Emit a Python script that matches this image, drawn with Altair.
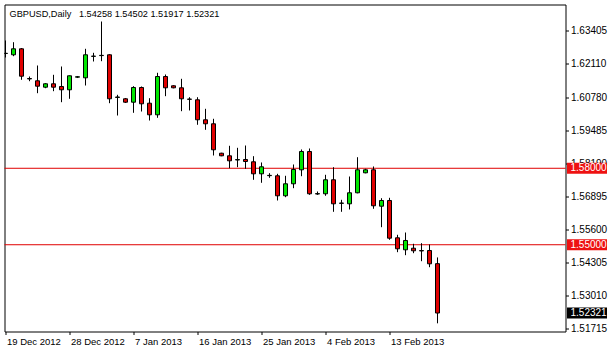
import altair as alt
import pandas as pd

symbol = "GBPUSD"
timeframe = "Daily"

opens = [1.62503, 1.62452, 1.62687, 1.61520, 1.61432, 1.61181, 1.61314, 1.61208, 1.61079, 1.61575,
         1.61549, 1.62390, 1.62420, 1.62452, 1.60780, 1.60726, 1.60592, 1.61169, 1.60553, 1.60098,
         1.61600, 1.61236, 1.61157, 1.60715, 1.60686, 1.59902, 1.59745, 1.58591, 1.58489, 1.58325,
         1.58344, 1.58254, 1.57783, 1.57710, 1.57705, 1.56920, 1.57391, 1.57940, 1.58658, 1.56990,
         1.56999, 1.57548, 1.56625, 1.56606, 1.57038, 1.57822, 1.57940, 1.56512, 1.56736, 1.55272,
         1.54802, 1.54864, 1.54770, 1.54774, 1.54258]
highs = [1.63013, 1.62946, 1.62718, 1.61600, 1.62032, 1.61338, 1.61667, 1.61993, 1.61640, 1.61620,
         1.62687, 1.62530, 1.63758, 1.62475, 1.60882, 1.60757, 1.61220, 1.61208, 1.60749, 1.61746,
         1.61679, 1.61255, 1.61510, 1.60788, 1.60788, 1.60333, 1.59941, 1.58607, 1.58882, 1.58803,
         1.58893, 1.58474, 1.58227, 1.57807, 1.57783, 1.57705, 1.58148, 1.58737, 1.58776, 1.57089,
         1.57744, 1.58042, 1.56763, 1.57677, 1.58434, 1.57979, 1.58070, 1.56826, 1.56842, 1.55390,
         1.55480, 1.55037, 1.55061, 1.55010, 1.54502]
lows = [1.62346, 1.62397, 1.61471, 1.61416, 1.60945, 1.61141, 1.61024, 1.60592, 1.60726, 1.61540,
        1.61247, 1.62189, 1.62201, 1.60553, 1.60070, 1.60561, 1.60176, 1.60227, 1.59874, 1.59980,
        1.60828, 1.61137, 1.60239, 1.60267, 1.59706, 1.59509, 1.58501, 1.58473, 1.58003, 1.58042,
        1.57979, 1.57548, 1.57430, 1.57626, 1.56736, 1.56865, 1.57218, 1.57689, 1.56959, 1.56959,
        1.56920, 1.56292, 1.56292, 1.56383, 1.57018, 1.57803, 1.56410, 1.55688, 1.55194, 1.54708,
        1.54590, 1.54668, 1.54354, 1.54119, 1.51917]
closes = [1.62510, 1.62687, 1.61612, 1.61505, 1.61220, 1.61314, 1.61181, 1.61079, 1.61628, 1.61590,
          1.62452, 1.62400, 1.62430, 1.60726, 1.60795, 1.60592, 1.61169, 1.60529, 1.60098, 1.61600,
          1.61157, 1.61157, 1.60726, 1.60705, 1.59902, 1.59745, 1.58725, 1.58489, 1.58293, 1.58340,
          1.58266, 1.57783, 1.58058, 1.57722, 1.56920, 1.57391, 1.57952, 1.58658, 1.56999, 1.57005,
          1.57548, 1.56606, 1.56635, 1.57038, 1.57940, 1.57940, 1.56528, 1.56736, 1.55257, 1.54841,
          1.55167, 1.54762, 1.54758, 1.54252, 1.52321]

tick_positions = [0, 8, 16, 24, 32, 40, 48]
tick_labels = ["19 Dec 2012", "28 Dec 2012", "7 Jan 2013", "16 Jan 2013",
               "25 Jan 2013", "4 Feb 2013", "13 Feb 2013"]
price_ticks = [1.63405, 1.62110, 1.60780, 1.59485, 1.58190, 1.56895,
               1.55600, 1.54305, 1.53010, 1.51715]
levels = [1.58000, 1.55000]

n = len(opens)
df = pd.DataFrame({"i": list(range(n)), "open": opens, "high": highs,
                   "low": lows, "close": closes})
df["dir"] = ["up" if c >= o else "down" for o, c in zip(opens, closes)]

lev_df = pd.DataFrame({"price": levels, "label": [f"{v:.5f}" for v in levels]})
last_df = pd.DataFrame({"price": [closes[-1]], "label": [f"{closes[-1]:.5f}"]})
title_text = (f"{symbol},{timeframe}\u00a0\u00a0 {opens[-1]:.5f} {highs[-1]:.5f} "
              f"{lows[-1]:.5f} {closes[-1]:.5f}")
title_df = pd.DataFrame({"t": [title_text]})

W, H = 561, 327
FONT = "Liberation Sans"

label_expr = ""
for p, lab in zip(tick_positions, tick_labels):
    label_expr += f"datum.value == {p} ? '{lab}' : "
label_expr += "''"

xscale = alt.Scale(domain=[-0.125, 70], nice=False, zero=False, padding=0)
yscale = alt.Scale(domain=[1.51596, 1.64425], nice=False, zero=False, padding=0)

xaxis = alt.Axis(values=tick_positions, labelExpr=label_expr, title=None, grid=False,
                 domain=False, tickSize=3, tickColor="black", labelAlign="left",
                 labelPadding=2, labelOffset=1, labelFont=FONT, labelFontSize=9.5,
                 labelColor="black", labelOverlap=False, labelFlush=False)
yaxis = alt.Axis(orient="right", values=price_ticks, format=".5f", title=None, grid=False,
                 domain=False, tickSize=3, tickColor="black", labelPadding=2,
                 labelFont=FONT, labelFontSize=10, labelColor="black",
                 labelOverlap=False, labelFlush=False)

X = alt.X("i:Q", scale=xscale, axis=xaxis)

wicks = alt.Chart(df).mark_rule(color="black", strokeWidth=1, clip=True).encode(
    x=X,
    y=alt.Y("low:Q", scale=yscale, axis=yaxis),
    y2="high:Q",
)

bodies = alt.Chart(df).mark_bar(size=4, stroke="black", strokeWidth=1, clip=True).encode(
    x=X,
    y=alt.Y("open:Q", scale=yscale, axis=yaxis),
    y2="close:Q",
    color=alt.Color("dir:N", scale=alt.Scale(domain=["up", "down"],
                                             range=["#00e600", "#e00000"]), legend=None),
)

level_lines = alt.Chart(lev_df).mark_rule(color="#e00000", strokeWidth=1).encode(
    y=alt.Y("price:Q", scale=yscale, axis=yaxis),
)

level_boxes = alt.Chart(lev_df).mark_tick(orient="horizontal", size=40, thickness=11,
                                          color="#ee1111", opacity=1).encode(
    x=alt.value(582.5),
    y=alt.Y("price:Q", scale=yscale, axis=yaxis),
)
level_text = alt.Chart(lev_df).mark_text(align="left", baseline="middle", color="white",
                                         font=FONT, fontSize=10).encode(
    x=alt.value(566),
    y=alt.Y("price:Q", scale=yscale, axis=yaxis),
    text="label:N",
)

last_box = alt.Chart(last_df).mark_tick(orient="horizontal", size=40, thickness=11,
                                        color="black", opacity=1).encode(
    x=alt.value(582.5),
    y=alt.Y("price:Q", scale=yscale, axis=yaxis),
)
last_text = alt.Chart(last_df).mark_text(align="left", baseline="middle", color="white",
                                         font=FONT, fontSize=10).encode(
    x=alt.value(566),
    y=alt.Y("price:Q", scale=yscale, axis=yaxis),
    text="label:N",
)

title = alt.Chart(title_df).mark_text(align="left", baseline="middle", color="black",
                                      font=FONT, fontSize=9.2).encode(
    x=alt.value(5),
    y=alt.value(9),
    text="t:N",
)

chart = alt.layer(
    level_lines, wicks, bodies, level_boxes, level_text, last_box, last_text, title
).properties(
    width=W, height=H,
    padding={"left": 4.5, "top": 4.5, "right": 44.5, "bottom": 19.5},
    autosize=alt.AutoSizeParams(type="none"),
    background="white",
).configure_view(
    stroke="black", strokeWidth=1
)

chart.save("out.html", embed_options={"renderer": "svg", "actions": False})
